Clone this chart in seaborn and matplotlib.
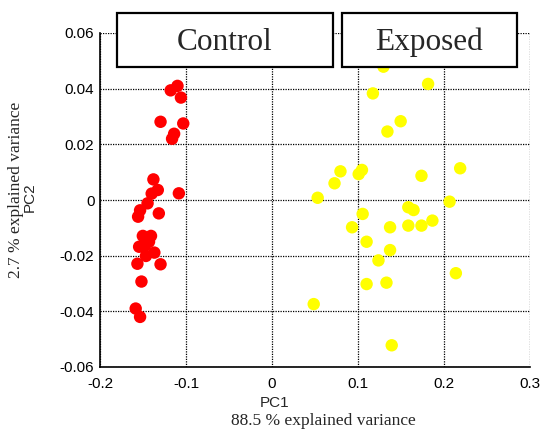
import matplotlib
matplotlib.use("Agg")
import matplotlib.pyplot as plt
import seaborn as sns
import pandas as pd
from matplotlib.patches import Rectangle

# ---- data ----
control_pc1 = [-0.1178, -0.1099, -0.1059, -0.1296, -0.1032, -0.1138, -0.1162,
               -0.1379, -0.1328, -0.1399, -0.1083, -0.1447, -0.1534, -0.1557,
               -0.1316, -0.1502, -0.1407, -0.1545, -0.1368, -0.1466, -0.1565,
               -0.1296, -0.1518, -0.1585, -0.1534, -0.1480, -0.1430]
control_pc2 = [0.0394, 0.0410, 0.0368, 0.0281, 0.0275, 0.0238, 0.0220,
               0.0074, 0.0036, 0.0023, 0.0024, -0.0012, -0.0037, -0.0060,
               -0.0048, -0.0129, -0.0129, -0.0168, -0.0189, -0.0201, -0.0229,
               -0.0231, -0.0293, -0.0390, -0.0420, -0.0165, -0.0150]
exposed_pc1 = [0.1296, 0.1815, 0.1173, 0.1496, 0.1342, 0.0796, 0.1046, 0.1008,
               0.0727, 0.1738, 0.2188, 0.0531, 0.2065, 0.1585, 0.1646, 0.1054,
               0.1865, 0.0931, 0.1373, 0.1585, 0.1738, 0.1100, 0.1373, 0.1238,
               0.2138, 0.1100, 0.1331, 0.0485, 0.1392]
exposed_pc2 = [0.0479, 0.0417, 0.0383, 0.0283, 0.0246, 0.0103, 0.0108, 0.0093,
               0.0060, 0.0087, 0.0114, 0.0008, -0.0006, -0.0026, -0.0036, -0.0050,
               -0.0074, -0.0098, -0.0098, -0.0092, -0.0092, -0.0150, -0.0180, -0.0217,
               -0.0263, -0.0302, -0.0297, -0.0374, -0.0522]
groups = ["Control", "Exposed"]
group_colors = ["#ff0000", "#ffff00"]
x_ticks = [-0.2, -0.1, 0, 0.1, 0.2, 0.3]
x_ticklabels = ["-0.2", "-0.1", "0", "0.1", "0.2", "0.3"]
y_ticks = [-0.06, -0.04, -0.02, 0, 0.02, 0.04, 0.06]
y_ticklabels = ["-0.06", "-0.04", "-0.02", "0", "0.02", "0.04", "0.06"]

df = pd.DataFrame({
    "PC1": control_pc1 + exposed_pc1,
    "PC2": control_pc2 + exposed_pc2,
    "group": [groups[0]] * len(control_pc1) + [groups[1]] * len(exposed_pc1),
})

sns.set_style("white")
plt.rcParams["font.family"] = ["Liberation Sans", "DejaVu Sans"]

W, H = 542, 430
fig = plt.figure(figsize=(W / 100, H / 100), dpi=100)
ax = fig.add_axes([100 / W, 1 - 367 / H, 430 / W, 334 / H])

sns.scatterplot(data=df, x="PC1", y="PC2", hue="group", hue_order=groups,
                palette=group_colors, s=80, linewidth=0, legend=False, ax=ax,
                zorder=3)

ax.set_xlim(-0.2, 0.3)
ax.set_ylim(-0.06, 0.06)
ax.set_xticks(x_ticks)
ax.set_xticklabels(x_ticklabels)
ax.set_yticks(y_ticks)
ax.set_yticklabels(y_ticklabels)
ax.tick_params(direction="in", length=4, width=1, labelsize=11, colors="black")
ax.tick_params(axis="x", pad=7)
ax.tick_params(axis="y", pad=4)
ax.grid(True, color="black", linestyle=(0, (1, 1)), linewidth=0.9, zorder=0)
ax.set_axisbelow(True)
for side in ["left", "bottom"]:
    ax.spines[side].set_color("black")
    ax.spines[side].set_linewidth(1.2)
for side in ["top", "right"]:
    ax.spines[side].set_visible(False)
ax.set_xlabel("")
ax.set_ylabel("")

# axis labels
fig.text(275 / W, 1 - 403 / H, "PC1", ha="center", va="center", fontsize=11)
fig.text(323 / W, 1 - 421 / H, "88.5 % explained variance", ha="center",
         va="center", fontsize=12.5, family="Liberation Serif")
fig.text(30 / W, 1 - 197 / H, "PC2", ha="center", va="center", fontsize=11,
         rotation=90)
fig.text(16 / W, 1 - 190 / H, "2.7 % explained variance", ha="center",
         va="center", fontsize=12.5, family="Liberation Serif", rotation=90)

# group title boxes
boxes = [(117, 333), (342, 517)]
for name, (x0, x1) in zip(groups, boxes):
    fig.patches.append(Rectangle((x0 / W, 1 - 67 / H), (x1 - x0) / W, 54 / H,
                                 transform=fig.transFigure, facecolor="white",
                                 edgecolor="black", linewidth=1.6, zorder=5))
    fig.text((x0 + x1) / 2 / W, 1 - 42 / H, name, ha="center", va="center",
             fontsize=22.5, family="Liberation Serif", zorder=6)

fig.savefig("out.png", dpi=100)
